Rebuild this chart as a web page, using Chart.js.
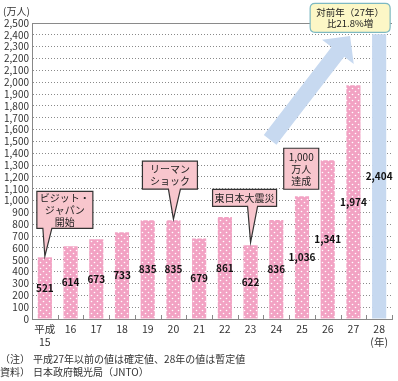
<!DOCTYPE html>
<html><head><meta charset="utf-8">
<script src="https://cdn.jsdelivr.net/npm/chart.js@4/dist/chart.umd.min.js"></script>
<style>html,body{margin:0;padding:0;background:#fff;}canvas{display:block;}</style>
</head><body>
<canvas id="c" width="398" height="381"></canvas>
<script>
// ---- data ----
const categories = [['平成','15'],'16','17','18','19','20','21','22','23','24','25','26','27',['28','(年)']];
const visitors = [521,614,673,733,835,835,679,861,622,836,1036,1341,1974,2404];
const yMin = 0, yMax = 2500, yStep = 100;
const unitLabel = '(万人)';
const noteHeads = ['（注）','資料）'];
const noteTexts = ['平成27年以前の値は確定値、28年の値は暫定値','日本政府観光局（JNTO）'];
const calloutIndex = [0,5,8,11,13];
const calloutLines = [['ビジット・','ジャパン','開始'],['リーマン','ショック'],['東日本大震災'],['1,000','万人','達成'],['対前年（27年）','比21.8%増']];
// arrow endpoints expressed in category-index / value units
const arrowFrom = [8.76, 1512];
const arrowTo = [11.87, 2390];

// ---- styles ----
const FONT = "'Noto Sans CJK JP','Noto Sans',sans-serif";
const PINK = '#f2a2c3', BLUE = '#c7d9f0';
const cv = document.getElementById('c');
const ctx0 = cv.getContext('2d');
function dotPattern(){
  const t = document.createElement('canvas'); t.width = 6; t.height = 6;
  const g = t.getContext('2d');
  g.fillStyle = PINK; g.fillRect(0,0,6,6);
  g.fillStyle = '#ffffff';
  [[1.5,1.5],[4.5,4.5]].forEach(([x,y])=>{g.beginPath();g.arc(x,y,0.8,0,Math.PI*2);g.fill();});
  return ctx0.createPattern(t,'repeat');
}
const pat = dotPattern();
const barColors = visitors.map((v,i)=> i===visitors.length-1 ? BLUE : pat);

// callout layout: [left,right,top,bottom] relative to bar top, pointer base [l,r], tip dy
const calloutLayout = [
  {box:[-8,48,-66,-29], ptr:[-2,7], tipDy:-1, lh:12, fill:'#f8c6cd', stroke:'#333'},
  {box:[-31,24,-59,-31], ptr:[-5,7], tipDy:-1, lh:12.5, fill:'#f8c6cd', stroke:'#333'},
  {box:[-38,26,-56,-39], ptr:[-3,7], tipDy:-3, lh:12, fill:'#f8c6cd', stroke:'#333'},
  {box:[-44,-9,-12,29], ptr:null, lh:12, fill:'#f8c6cd', stroke:'#333'},
  {box:[-69,11,-31,-2], ptr:null, lh:11, fill:'#fcf7c6', stroke:'#7db9c2', round:5, size:9.5}
];

const decor = {
  id:'decor',
  beforeDatasetsDraw(chart){
    const {ctx, scales:{x,y}} = chart;
    // big arrow
    const bx = x.getPixelForValue(arrowFrom[0]), by = y.getPixelForValue(arrowFrom[1]);
    const tx = x.getPixelForValue(arrowTo[0]), ty = y.getPixelForValue(arrowTo[1]);
    const dx = tx-bx, dy = ty-by, L = Math.hypot(dx,dy);
    const ux = dx/L, uy = dy/L, nx = -uy, ny = ux;
    const sw = 8, hw = 20, hl = 20;
    const hx = tx-ux*hl, hy = ty-uy*hl;
    ctx.save();
    ctx.fillStyle = BLUE;
    ctx.beginPath();
    ctx.moveTo(bx+nx*sw, by+ny*sw);
    ctx.lineTo(hx+nx*sw, hy+ny*sw);
    ctx.lineTo(hx+nx*hw, hy+ny*hw);
    ctx.lineTo(tx, ty);
    ctx.lineTo(hx-nx*hw, hy-ny*hw);
    ctx.lineTo(hx-nx*sw, hy-ny*sw);
    ctx.lineTo(bx-nx*sw, by-ny*sw);
    ctx.closePath();
    ctx.fill();
    ctx.restore();
  },
  afterDatasetsDraw(chart){
    const {ctx, scales:{x,y}, chartArea} = chart;
    const meta = chart.getDatasetMeta(0);
    ctx.save();
    // small x ticks at category boundaries
    ctx.strokeStyle = '#888'; ctx.lineWidth = 1;
    for(let i=0;i<=categories.length;i++){
      const px = Math.round(x.getPixelForValue(i-0.5))+0.5;
      ctx.beginPath(); ctx.moveTo(px, chartArea.bottom); ctx.lineTo(px, chartArea.bottom-4); ctx.stroke();
    }
    // value labels
    ctx.fillStyle = '#111';
    ctx.font = 'bold 10px '+FONT;
    ctx.textAlign = 'center'; ctx.textBaseline = 'middle';
    meta.data.forEach((bar,i)=>{
      ctx.fillText(visitors[i].toLocaleString('en-US'), bar.x, (bar.y+bar.base)/2);
    });
    // callouts
    calloutIndex.forEach((idx,k)=>{
      const lay = calloutLayout[k];
      const bar = meta.data[idx];
      const ax = bar.x, ay = bar.y;
      const l = ax+lay.box[0], r = ax+lay.box[1], t = ay+lay.box[2], b = ay+lay.box[3];
      ctx.beginPath();
      if(lay.round){
        const rr = lay.round;
        ctx.moveTo(l+rr,t); ctx.lineTo(r-rr,t); ctx.quadraticCurveTo(r,t,r,t+rr);
        ctx.lineTo(r,b-rr); ctx.quadraticCurveTo(r,b,r-rr,b);
        ctx.lineTo(l+rr,b); ctx.quadraticCurveTo(l,b,l,b-rr);
        ctx.lineTo(l,t+rr); ctx.quadraticCurveTo(l,t,l+rr,t);
      } else {
        ctx.moveTo(l,t); ctx.lineTo(r,t); ctx.lineTo(r,b);
        if(lay.ptr){
          ctx.lineTo(ax+lay.ptr[1], b);
          ctx.lineTo(ax, ay+lay.tipDy);
          ctx.lineTo(ax+lay.ptr[0], b);
        }
        ctx.lineTo(l,b);
      }
      ctx.closePath();
      ctx.fillStyle = lay.fill; ctx.fill();
      ctx.lineWidth = 1.2; ctx.strokeStyle = lay.stroke; ctx.stroke();
      const lines = calloutLines[k];
      ctx.fillStyle = '#222';
      ctx.font = (lay.size||10)+'px '+FONT;
      const cy = (t+b)/2, cx = (l+r)/2;
      lines.forEach((s,j)=>{
        ctx.fillText(s, cx, cy + (j-(lines.length-1)/2)*lay.lh);
      });
    });
    ctx.restore();
  },
  afterDraw(chart){
    const {ctx} = chart;
    ctx.save();
    ctx.fillStyle = '#333';
    ctx.font = '10px '+FONT;
    ctx.textAlign = 'left'; ctx.textBaseline = 'middle';
    ctx.fillText(unitLabel, 3, 11);
    noteHeads.forEach((h,i)=>{
      const yy = 359 + i*13;
      ctx.fillText(h, 0, yy);
      ctx.fillText(noteTexts[i], 33, yy);
    });
    ctx.restore();
  }
};

new Chart(cv, {
  type:'bar',
  data:{labels:categories, datasets:[{data:visitors, backgroundColor:barColors, borderWidth:0,
    categoryPercentage:1.0, barPercentage:0.55}]},
  options:{
    responsive:false, animation:false,
    layout:{padding:{left:0,right:6,top:23,bottom:0}},
    plugins:{legend:{display:false}, tooltip:{enabled:false}},
    scales:{
      x:{
        grid:{display:false, drawTicks:false},
        border:{display:true, color:'#888', width:1},
        ticks:{color:'#333', font:{family:FONT, size:10.5, lineHeight:1.25}, padding:3, autoSkip:false, maxRotation:0},
        afterFit(s){ s.height = 62; }
      },
      y:{
        min:yMin, max:yMax,
        grid:{color:'#8a8a8a', lineWidth:1, drawTicks:false},
        border:{display:true, color:'#888', width:1, dash:(c)=> (c.tick && c.tick.value===yMax) ? [] : [1,2]},
        ticks:{stepSize:yStep, autoSkip:false, maxTicksLimit:100, color:'#333', padding:3,
          font:{family:FONT, size:10},
          callback:(v)=> Number(v).toLocaleString('en-US')},
        afterFit(s){ s.width = 32; }
      }
    }
  },
  plugins:[decor]
});
</script>
</body></html>
